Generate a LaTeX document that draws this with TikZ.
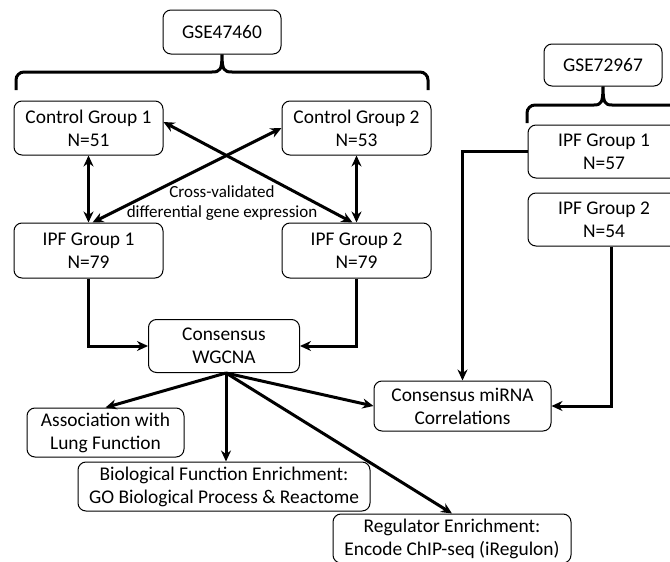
\documentclass[tikz,border=0pt]{standalone}
\usepackage{fontspec}
\setmainfont{Carlito}
\usepackage{tikz}
\usetikzlibrary{arrows.meta, positioning}
\tikzset{
  box/.style={draw, line width=0.5pt, rounded corners=4pt, align=center, inner sep=1pt,
    font=\fontsize{9.7}{11.5}\selectfont},
  flow/.style={line width=1.5pt, -{Stealth[length=5.5pt, width=5pt]}},
  both/.style={line width=1.5pt, {Stealth[length=5.5pt, width=5pt]}-{Stealth[length=5.5pt, width=5pt]}},
  brace/.style={line width=1.5pt}
}

\begin{document}
\begin{tikzpicture}[x=0.5pt, y=-0.5pt, >=Stealth]
        \useasboundingbox (0,0) rectangle (670,562);
        \clip (0,0) rectangle (670,562);
        % Nodes
        \node[box, minimum width=59pt, minimum height=22pt] (gseA) at (222, 32) {GSE47460};
        \node[box, minimum width=74.5pt, minimum height=27pt] (ctrlA) at (88.5, 128) {Control Group 1\\N=51};
        \node[box, minimum width=74.5pt, minimum height=27pt] (ctrlB) at (356.5, 128) {Control Group 2\\N=53};
        \node[box, minimum width=74.5pt, minimum height=27.5pt] (ipfA) at (88.5, 250.5) {IPF Group 1\\N=79};
        \node[box, minimum width=74.5pt, minimum height=27.5pt] (ipfB) at (356.5, 250.5) {IPF Group 2\\N=79};
        \node[box, minimum width=75.5pt, minimum height=26.5pt] (wgcna) at (224, 346) {Consensus\\WGCNA};
        \node[box, minimum width=59pt, minimum height=21pt] (gseB) at (603, 65) {GSE72967};
        \node[box, minimum width=76pt, minimum height=26.5pt] (mipfA) at (604, 151.5) {IPF Group 1\\N=57};
        \node[box, minimum width=76pt, minimum height=26.5pt] (mipfB) at (604, 219.5) {IPF Group 2\\N=54};
        \node[box, minimum width=88.5pt, minimum height=25pt] (mirna) at (462.5, 406) {Consensus miRNA\\Correlations};
        \node[box, minimum width=78.5pt, minimum height=24.5pt] (assoc) at (105.5, 432.5) {Association with\\Lung Function};
        \node[box, minimum width=146pt, minimum height=24.5pt] (biofunc) at (224, 486.5) {Biological Function Enrichment:\\GO Biological Process \& Reactome};
        \node[box, minimum width=119pt, minimum height=24.5pt] (regul) at (452, 538.5) {Regulator Enrichment:\\Encode ChIP-seq (iRegulon)};

        \node[align=center, font=\fontsize{8.5}{10}\selectfont] (cross) at (222, 203) {Cross-validated\\differential gene expression};

        % Braces
        \coordinate (bAl) at (16, 90);
        \coordinate (bAr) at (428, 90);
        \draw[brace] (bAl) -- (16, 80) to[out=90, in=180] (24, 72) -- (212, 72)
            .. controls (220, 72) and (222, 70) .. (gseA.south)
            .. controls (222, 70) and (224, 72) .. (232, 72) -- (420, 72) to[out=0, in=90] (428, 80) -- (bAr);
        \coordinate (bBl) at (527, 123);
        \coordinate (bBr) at (690, 105);
        \draw[brace] (bBl) -- (527, 113) to[out=90, in=180] (535, 105) -- (594, 105)
            .. controls (601, 105) and (603, 103) .. (gseB.south)
            .. controls (603, 103) and (605, 105) .. (612, 105) -- (bBr);

        % Directed edges
        \draw[both] (ctrlA.south) -- (ctrlA.south |- ipfA.north);
        \draw[both] (ctrlB.south) -- (ctrlB.south |- ipfB.north);
        \draw[both] ([yshift=3pt]ctrlA.east) -- ([xshift=-2pt]ipfB.north);
        \draw[both] (ctrlB.west) -- ([xshift=2pt]ipfA.north);
        \draw[flow] (ipfA.south) |- (wgcna.west);
        \draw[flow] (ipfB.south) |- (wgcna.east);
        \draw[flow] (mipfA.west) -| (mirna.north);
        \draw[flow] ([xshift=3.5pt]mipfB.south) |- (mirna.east);
        \draw[flow] ([xshift=1pt]wgcna.south) -- (assoc.north);
        \draw[flow] ([xshift=1pt]wgcna.south) -- ([xshift=1pt]wgcna.south |- biofunc.north);
        \draw[flow] ([xshift=1pt]wgcna.south) -- (regul.north);
        \draw[flow] ([xshift=1pt]wgcna.south) -- (mirna.west);
    \end{tikzpicture}
\end{document}
